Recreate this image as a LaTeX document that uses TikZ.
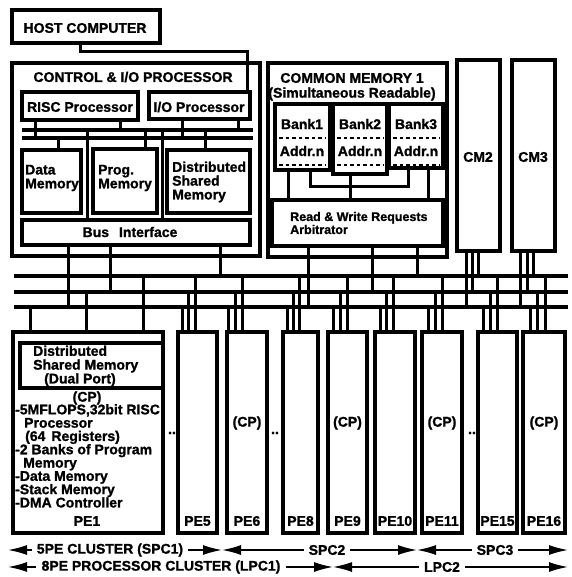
\documentclass[tikz,border=0pt]{standalone}
\usepackage{fontspec}
\setmainfont{Liberation Sans}[BoldFeatures={FakeBold=1.2}]
\usetikzlibrary{arrows.meta,calc}
\newcommand\bx[5]{\node[box, minimum width={(#4-(#2))*1pt}, minimum height={(#5-(#3))*1pt}] (#1) at ({(#2+#4)/2},{(#3+#5)/2}) {};}
\begin{document}
\begin{tikzpicture}[x=1pt,y=-1pt,
  box/.style={draw, line width=3.4pt, inner sep=0pt, fill=white},
  wire/.style={line width=3pt},
  busline/.style={line width=3.3pt},
  lbl/.style={font=\fontsize{14}{13.8}\selectfont\bfseries, inner sep=0pt},
  slbl/.style={font=\fontsize{12.5}{13}\selectfont\bfseries, inner sep=0pt},
  dots/.style={line width=2.6pt, dash pattern=on 3.5pt off 3pt},
  arr/.style={line width=1.6pt, -{Latex[length=19pt,width=10pt]}},
  alb/.style={font=\fontsize{14}{14}\selectfont\bfseries, inner xsep=5pt, inner ysep=0pt}]
\useasboundingbox (0,0) rectangle (571,577);

% ---------- bus coordinates ----------
\coordinate (b1L) at (14,276); \coordinate (b1R) at (568,276);
\coordinate (b2L) at (14,292); \coordinate (b2R) at (568,292);
\coordinate (b3L) at (14,307); \coordinate (b3R) at (568,307);
\coordinate (i1L) at (22,130); \coordinate (i1R) at (253,130);
\coordinate (i2L) at (22,138); \coordinate (i2R) at (253,138);

% ---------- boxes ----------
\bx{host}{12}{10}{160}{43}
\bx{ctrl}{12}{63}{260}{256}
\bx{cm1}{268}{63}{447}{257}
\bx{cm2}{457}{60}{500}{251}
\bx{cm3}{512}{60}{555}{251}
\bx{risc}{22}{92}{138}{120}
\bx{iop}{149}{92}{250}{119}
\bx{datam}{22}{150}{81}{213}
\bx{progm}{93}{149}{157}{213}
\bx{dsm}{167}{150}{250}{213}
\bx{busif}{22}{220}{250}{245}
\bx{bank1}{275}{104}{330}{170}
\bx{bank2}{333}{104}{387}{174}
\bx{bank3}{389}{104}{443}{168}
\bx{arb}{272}{200}{443}{246}
\bx{pe1}{13}{332}{163}{533}
\bx{dspe}{20}{343}{163}{388}
\bx{pe5}{178}{332}{217}{533}
\bx{pe6}{227}{332}{267}{533}
\bx{pe8}{283}{332}{318}{533}
\bx{pe9}{328}{332}{367}{533}
\bx{pe10}{375}{332}{415}{533}
\bx{pe11}{422}{332}{462}{533}
\bx{pe15}{478}{332}{517}{533}
\bx{pe16}{523}{332}{565}{533}

% ---------- host link ----------
\coordinate (hbend) at (247,52);
\draw[wire] (host.south -| 80,0) |- (hbend) -- (hbend |- iop.north);

% ---------- control internal bus ----------
\draw[busline] (i1L) -- (i1R);
\draw[busline] (i2L) -- (i2R);
\draw[wire] (risc.south -| 35,0) -- (35,0 |- i2L);
\draw[wire] (risc.south -| 120,0) -- (120,0 |- i1L);
\draw[wire] (iop.south -| 182,0) -- (182,0 |- i2L);
\draw[wire] (iop.south -| 238,0) -- (238,0 |- i1L);
\draw[wire] (i2L -| 58,0) -- (datam.north -| 58,0);
\draw[wire] (i1L -| 145,0) -- (progm.north -| 145,0);
\draw[wire] (i1L -| 205,0) -- (dsm.north -| 205,0);
\draw[wire] (i1L -| 87,0) -- (busif.north -| 87,0);
\draw[wire] (i1L -| 162,0) -- (busif.north -| 162,0);

% ---------- common memory internal ----------
\coordinate (kb) at (310,187);
\draw[wire] (bank1.south -| 288,0) -- (arb.north -| 288,0);
\draw[wire] (bank1.south -| kb) |- (408,0 |- kb) -- (bank3.south -| 408,0);
\draw[wire] (bank2.south -| 350,0) -- (arb.north -| 350,0);
\draw[wire] (bank3.south -| 428,0) -- (arb.north -| 428,0);
\foreach \b/\l/\r in {bank1/279/326, bank2/337/383, bank3/393/439}{
  \draw[dots] (\l,138) -- (\r,138);
  \draw[dots] (\l,165) -- (\r,165);
}

% ---------- system bus ----------
\draw[busline] (b1L) -- (b1R);
\draw[busline] (b2L) -- (b2R);
\draw[busline] (b3L) -- (b3R);
% sources
\draw[wire] (busif.south -| 68,0) -- (68,0 |- b3L);
\draw[wire] (busif.south -| 110,0) -- (110,0 |- b2L);
\draw[wire] (busif.south -| 220,0) -- (220,0 |- b1L);
\draw[wire] (arb.south -| 308,0) -- (308,0 |- b3L);
\draw[wire] (arb.south -| 372,0) -- (372,0 |- b2L);
\draw[wire] (arb.south -| 417,0) -- (417,0 |- b1L);
\foreach \n/\a/\b/\c in {cm2/466/472/478, cm3/520/527/533}{
  \draw[wire] (\n.south -| \a,0) -- (\a,0 |- b3L);
  \draw[wire] (\n.south -| \b,0) -- (\b,0 |- b2L);
  \draw[wire] (\n.south -| \c,0) -- (\c,0 |- b1L);
}
% processing elements
\foreach \n/\a/\b/\c in {pe1/30/86/143, pe5/182/188/195, pe6/228/235/242,
   pe8/287/293/299, pe9/333/340/347, pe10/380/386/393, pe11/428/435/442,
   pe15/483/490/497, pe16/530/537/545}{
  \draw[wire] (\a,0 |- b3L) -- (\n.north -| \a,0);
  \draw[wire] (\b,0 |- b2L) -- (\n.north -| \b,0);
  \draw[wire] (\c,0 |- b1L) -- (\n.north -| \c,0);
}

% ---------- texts ----------
\node[lbl] (thost) at (85,28) {HOST COMPUTER};
\node[lbl] (tctrl) at (133,77) {CONTROL \& I/O PROCESSOR};
\node[lbl] (trisc) at (80,107) {RISC Processor};
\node[lbl] (tiop) at (199,107) {I/O Processor};
\node[lbl, align=left, anchor=west] (tdata) at (25,178) {Data\\Memory};
\node[lbl, align=left, anchor=west] (tprog) at (98,178) {Prog.\\Memory};
\node[lbl, align=left, anchor=west] (tdsm) at (172,182) {Distributed\\Shared\\Memory};
\node[lbl] (tbus) at (130,232) {Bus\hspace{10pt}Interface};
\node[lbl] (tcm1) at (352,78) {COMMON MEMORY 1};
\node[lbl] (tcm1b) at (352,94) {(Simultaneous Readable)};
\foreach \n/\x in {1/302, 2/360, 3/416}{
  \node[lbl] (tbank\n) at (\x,124) {Bank\n};
  \node[lbl] (taddr\n) at (\x,151) {Addr.n};
}
\node[slbl, align=left, anchor=west] (tarb) at (290,223) {Read \& Write Requests\\Arbitrator};
\node[lbl] (tcm2) at (478,157) {CM2};
\node[lbl] (tcm3) at (533,157) {CM3};

\node[lbl, align=left, anchor=west] (tdspe) at (33,366) {Distributed\\Shared Memory\\\hspace*{11pt}(Dual Port)};
\node[lbl] (tcp1) at (87,398) {(CP)};
\node[lbl, font=\fontsize{14}{13.3}\selectfont\bfseries, align=left, anchor=north west] (tpe1) at (15,404) {-5MFLOPS,32bit RISC\\
  \hspace*{9pt}Processor\\
  \hspace*{10pt}(64\hspace{6pt}Registers)\\
  -2 Banks of Program\\
  \hspace*{8pt}Memory\\
  -Data Memory\\
  -Stack Memory\\
  -DMA Controller};
\node[lbl] (lpe1) at (87,521) {PE1};
\foreach \n in {5,6,8,9,10,11,15,16}{
  \node[lbl] (lpe\n) at (pe\n.center |- 0,521) {PE\n};
}
\foreach \n in {6,9,11,16}{
  \node[lbl] (cp\n) at (pe\n.center |- 0,423) {(CP)};
}
\node[lbl] (d1) at (172,433) {..};
\node[lbl] (d2) at (275,433) {..};
\node[lbl] (d3) at (472,433) {..};

% ---------- cluster arrows ----------
\coordinate (r1a) at (8,550); \coordinate (r1b) at (222,550);
\coordinate (r1c) at (417,550); \coordinate (r1d) at (568,550);
\node[alb] (spc1) at (110,550) {5PE CLUSTER (SPC1)};
\node[alb] (spc2) at (327,550) {SPC2};
\node[alb] (spc3) at (495,550) {SPC3};
\draw[arr] (spc1.west) -- (r1a);
\draw[arr] (spc1.east) -- (r1b);
\draw[arr] (spc2.west) -- (r1b);
\draw[arr] (spc2.east) -- (r1c);
\draw[arr] (spc3.west) -- (r1c);
\draw[arr] (spc3.east) -- (r1d);
\coordinate (r2a) at (8,567); \coordinate (r2b) at (333,567);
\coordinate (r2c) at (568,567);
\node[alb] (lpc1) at (161,567) {8PE PROCESSOR CLUSTER (LPC1)};
\node[alb] (lpc2) at (442,567) {LPC2};
\draw[arr] (lpc1.west) -- (r2a);
\draw[arr] (lpc1.east) -- (r2b);
\draw[arr] (lpc2.west) -- (r2b);
\draw[arr] (lpc2.east) -- (r2c);
\end{tikzpicture}
\end{document}
